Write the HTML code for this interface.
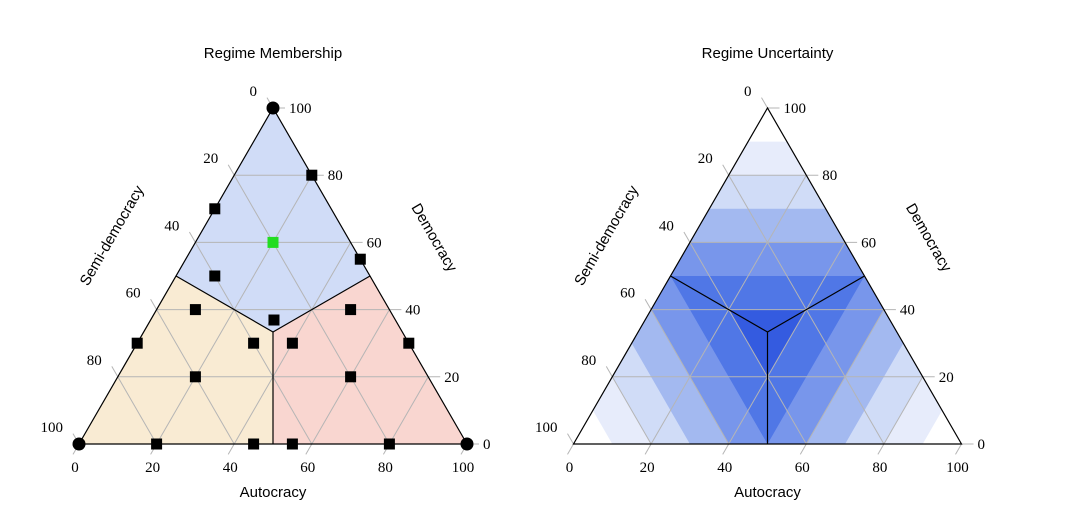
<!DOCTYPE html>
<html><head><meta charset="utf-8"><style>
body{margin:0;background:#fff;}
svg{display:block;}
.tl{font-family:"Liberation Serif",serif;font-size:15px;fill:#000;}
.tt{font-family:"Liberation Sans",sans-serif;font-size:15px;fill:#000;}
</style></head><body>
<svg id="s" width="1091" height="529" xmlns="http://www.w3.org/2000/svg"></svg>
<script>
// data arrays
const ticks = [0,20,40,60,80,100];
const ptsA = [0,100,0,20,0,20,10,45,10,50,31.8,0,30,40,70,20,60,20,45,55,80];
const ptsD = [0,0,100,80,70,60,50,55,40,40,36.9,30,30,30,30,20,20,0,0,0,0];
const ptsShape = ['c','c','c','s','s','g','s','s','s','s','s','s','s','s','s','s','s','s','s','s','s'];
const thresholds = [100,90,80,70,60,50,40];
const levelColors = ['#ffffff','#e7ecfb','#d0dcf7','#a3b9f0','#7896eb','#5077e6','#345be0'];
const regionNames = ['democracy-region','semi-democracy-region','autocracy-region'];
const regionColors = ['#d0dcf7','#f9ebd3','#f9d6d0'];

const NS='http://www.w3.org/2000/svg';
const svg=document.getElementById('s');
const W=388,H=336,Y0=444;
function P(x0,A,S,D){const t=A+S+D;A=A/t*100;D=D/t*100;return [x0+W*(A+D/2)/100, Y0-H*D/100];}
function mk(tag,attrs,parent){const e=document.createElementNS(NS,tag);for(const k in attrs)e.setAttribute(k,attrs[k]);(parent||svg).appendChild(e);return e;}
function poly(x0,pts){return pts.map(p=>P(x0,p[0],p[1],p[2]).join(',')).join(' ');}

function frame(x0,g,title){
  for(const v of [20,40,60,80]){
    const a=P(x0,0,100-v,v), b=P(x0,100-v,0,v);
    let l=mk('line',{x1:a[0],y1:a[1],x2:b[0]+12,y2:b[1],stroke:'#b5b5b5','stroke-width':1},g);
    
    
    const c=P(x0,v,100-v,0), d=P(x0,v,0,100-v);
    l=mk('line',{x1:c[0]-6,y1:c[1]+10.4,x2:d[0],y2:d[1],stroke:'#b5b5b5','stroke-width':1},g);
    
    
    const e=P(x0,0,v,100-v), f=P(x0,100-v,v,0);
    l=mk('line',{x1:e[0]-6,y1:e[1]-10.4,x2:f[0],y2:f[1],stroke:'#b5b5b5','stroke-width':1},g);
    
    
  }
  for(const v of [0,100]){
    const b=P(x0,100-v,0,v); mk('line',{x1:b[0],y1:b[1],x2:b[0]+12,y2:b[1],stroke:'#b5b5b5'},g);
    const c=P(x0,v,100-v,0); mk('line',{x1:c[0],y1:c[1],x2:c[0]-6,y2:c[1]+10.4,stroke:'#b5b5b5'},g);
    const e=P(x0,0,v,100-v); mk('line',{x1:e[0],y1:e[1],x2:e[0]-6,y2:e[1]-10.4,stroke:'#b5b5b5'},g);
  }
  const tri=mk('polygon',{points:poly(x0,[[100,0,0],[0,100,0],[0,0,100]]),fill:'none',stroke:'#000','stroke-width':1.2},g);
  
  
  for(const v of ticks){
    const b=P(x0,100-v,0,v);
    let t=mk('text',{x:b[0]+16,y:b[1]+5,class:'tl'},g); t.textContent=v;
    
    
    const c=P(x0,v,100-v,0);
    t=mk('text',{x:c[0]-4,y:c[1]+28,class:'tl','text-anchor':'middle'},g); t.textContent=v;
    
    
    const e=P(x0,0,v,100-v);
    t=mk('text',{x:e[0]-16,y:e[1]-12,class:'tl','text-anchor':'end'},g); t.textContent=v;
    
    
  }
  const cx=x0+W/2;
  let t=mk('text',{x:cx,y:58,class:'tt','text-anchor':'middle'},g); t.textContent=title;
  
  
  t=mk('text',{x:cx,y:497,class:'tt','text-anchor':'middle'},g); t.textContent='Autocracy';
  
  
  t=mk('text',{x:0,y:0,class:'tt','text-anchor':'middle',transform:`translate(${x0+351},240) rotate(60)`},g); t.textContent='Democracy';
  
  
  t=mk('text',{x:0,y:0,class:'tt','text-anchor':'middle',transform:`translate(${x0+37},238) rotate(-60)`},g); t.textContent='Semi-democracy';
  
  
}
function boundaries(x0,g){
  const c=[100/3,100/3,100/3];
  for(const e of [[0,50,50],[50,0,50],[50,50,0]]){
    const a=P(x0,...e), b=P(x0,...c);
    const l=mk('line',{x1:a[0],y1:a[1],x2:b[0],y2:b[1],stroke:'#000','stroke-width':1.2},g);
    
    
  }
}

const g1=mk('g',{});


const L=79, C3=[100/3,100/3,100/3];
const regs=[[[0,50,50],[0,0,100],[50,0,50],C3],[[0,50,50],[0,100,0],[50,50,0],C3],[[50,0,50],[100,0,0],[50,50,0],C3]];
regs.forEach((r,i)=>{const p=mk('polygon',{points:poly(L,r),fill:regionColors[i]},g1);
  
  });
frame(L,g1,'Regime Membership');
boundaries(L,g1);
ptsA.forEach((a,i)=>{
  const d=ptsD[i], s=Math.max(0,100-a-d), p=P(L,a,s,d);
  let e;
  if(ptsShape[i]==='c') e=mk('circle',{cx:p[0],cy:p[1],r:6.5,fill:'#000'},g1);
  else e=mk('rect',{x:p[0]-5.5,y:p[1]-5.5,width:11,height:11,fill:ptsShape[i]==='g'?'#22dd22':'#000'},g1);
  
  
});

const g2=mk('g',{});


const R=573.5;
thresholds.forEach((t,i)=>{
  let pts;
  if(t>=100) pts=[[100,0,0],[0,100,0],[0,0,100]];
  else if(t>=50) pts=[[t,100-t,0],[t,0,100-t],[100-t,0,t],[0,100-t,t],[0,t,100-t],[100-t,t,0]];
  else pts=[[t,t,100-2*t],[t,100-2*t,t],[100-2*t,t,t]];
  const p=mk('polygon',{points:poly(R,pts),fill:levelColors[i]},g2);
  
  
});
frame(R,g2,'Regime Uncertainty');
boundaries(R,g2);
</script>
</body></html>
